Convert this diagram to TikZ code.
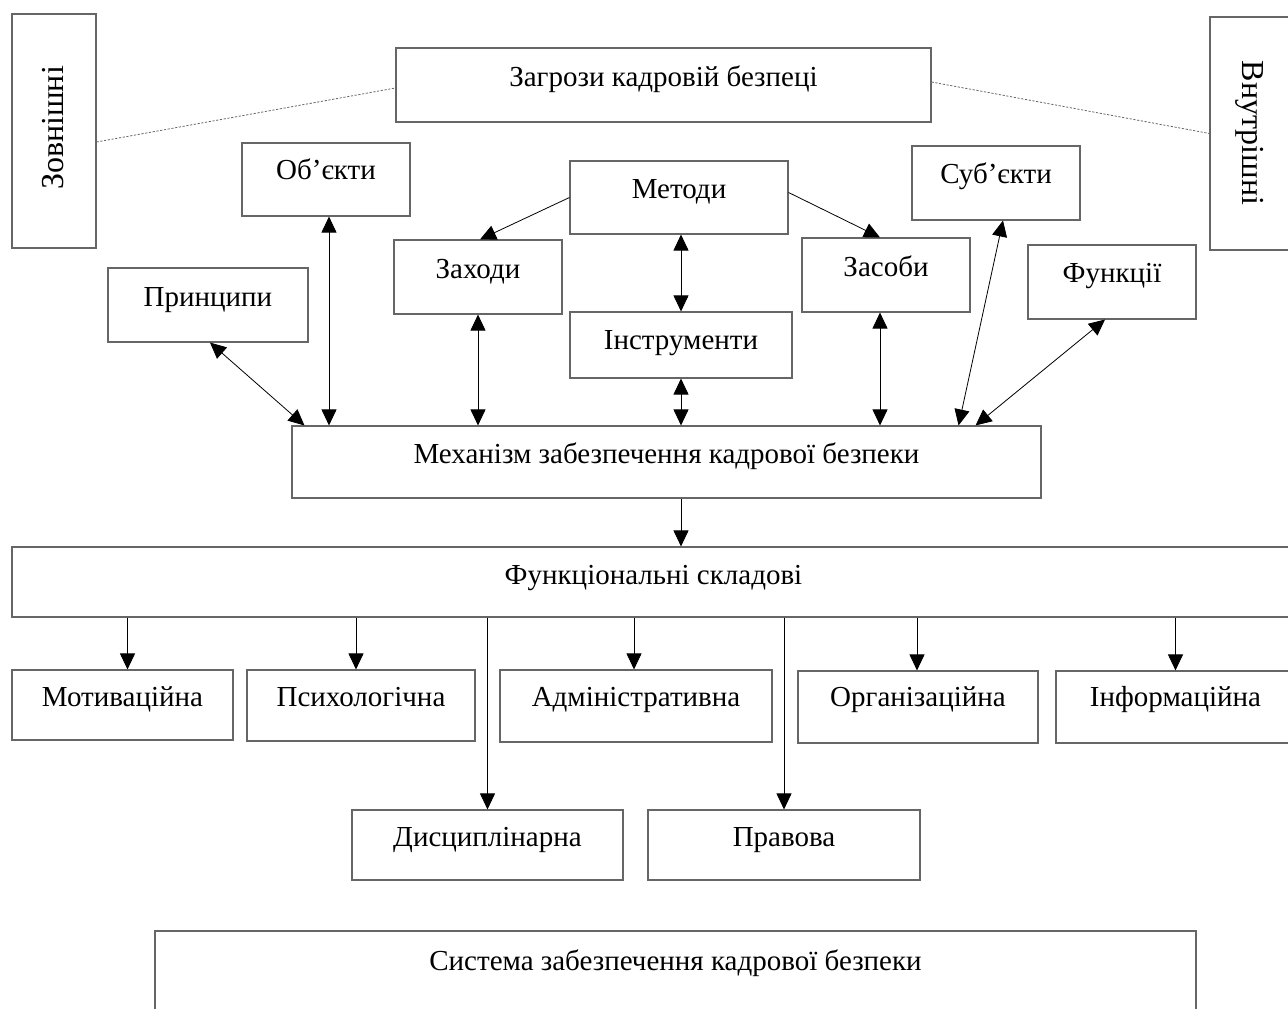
\documentclass[tikz,border=0pt]{standalone}
\usepackage{fontspec}
\setmainfont{Liberation Serif}
\usetikzlibrary{arrows.meta,fit}

\tikzset{
  box/.style={draw=black!60, line width=1.1pt, inner sep=0pt, fill=none},
  lbl/.style={inner sep=0pt, text height=0.7em, text depth=0.22em,
              font=\fontsize{29}{34}\selectfont},
  conn/.style={draw=black, line width=0.8pt},
  tip/.style={-{Triangle[length=16pt,width=15pt]}},
  both/.style={{Triangle[length=16pt,width=15pt]}-{Triangle[length=16pt,width=15pt]}},
  dots/.style={draw=black!60, line width=0.8pt, dash pattern=on 2.2pt off 1.6pt},
}

% framed box from corner (l,t) to (r,b), caption centred near height ty
\newcommand\framedbox[7]{%
  \node[box, fit={(#2,#3)(#4,#5)}] (#1) {};
  \node[lbl] (#1-t) at ({(#2+#4)/2},{#6+5}) {#7};}

\begin{document}
\begin{tikzpicture}[x=1pt,y=-1pt]
\useasboundingbox (0,0) rectangle (1288,1009);

% threats and their two kinds
\node[box, fit={(12,14)(96,248)}] (zovn) {};
\node[inner sep=0pt, rotate=90, font=\fontsize{32}{36}\selectfont] (zovn-t) at (53,128) {Зовнішні};
\node[box, fit={(1210,17)(1295,250)}] (vnutr) {};
\node[inner sep=0pt, rotate=-90, font=\fontsize{32}{36}\selectfont] (vnutr-t) at (1250,133) {Внутрішні};
\framedbox{zagr}{396}{48}{931}{122}{79}{Загрози кадровій безпеці}

% elements of the mechanism
\framedbox{obj}{242}{143}{410}{216}{172}{Об’єкти}
\framedbox{metody}{570}{161}{788}{234}{191}{Методи}
\framedbox{sub}{912}{146}{1080}{220}{176}{Суб’єкти}
\framedbox{zaxody}{394}{240}{562}{314}{271}{Заходи}
\framedbox{zasoby}{802}{238}{970}{312}{269}{Засоби}
\framedbox{pryn}{108}{268}{308}{342}{299}{Принципи}
\framedbox{funk}{1028}{245}{1196}{319}{275}{Функції}
\framedbox{instr}{570}{312}{792}{378}{342}{Інструменти}

\framedbox{mech}{292}{426}{1041}{498}{456}{Механізм забезпечення кадрової безпеки}

% functional components
\framedbox{func}{12}{547}{1295}{617}{577}{Функціональні складові}
\framedbox{motiv}{12}{670}{233}{740}{699}{Мотиваційна}
\framedbox{psyx}{247}{670}{475}{741}{699}{Психологічна}
\framedbox{adm}{500}{670}{772}{742}{699}{Адміністративна}
\framedbox{org}{798}{671}{1038}{743}{699}{Організаційна}
\framedbox{inf}{1056}{671}{1295}{743}{699}{Інформаційна}
\framedbox{dysc}{352}{810}{623}{880}{839}{Дисциплінарна}
\framedbox{prav}{648}{810}{920}{880}{839}{Правова}

\framedbox{syst}{155}{931}{1196}{1015}{963}{Система забезпечення кадрової безпеки}

% dotted links of the threats
\draw[dots] ([yshift=-11pt]zovn.east) -- ([yshift=-3pt]zagr.west);
\draw[dots] ([yshift=3pt]zagr.east) -- (vnutr.west);

% links around the methods
\draw[conn, tip] (metody.west) -- ([xshift=2pt]zaxody.north);
\draw[conn, tip] ([yshift=5pt]metody.east) -- ([xshift=-6pt]zasoby.north);
\draw[conn, both] (metody.south -| instr.south) -- (instr.north);

% links into the mechanism
\draw[conn, both] ([xshift=3pt]obj.south) -- ([xshift=3pt]obj.south |- mech.north);
\draw[conn, both] ([xshift=2pt]pryn.south) -- ([xshift=13pt]mech.north west);
\draw[conn, both] (zaxody.south) -- (zaxody.south |- mech.north);
\draw[conn, both] ([xshift=-6pt]zasoby.south) -- ([xshift=-6pt]zasoby.south |- mech.north);
\draw[conn, both] (instr.south) -- (instr.south |- mech.north);
\draw[conn, both] ([xshift=7pt]sub.south) -- ([xshift=-83pt]mech.north east);
\draw[conn, both] ([xshift=-7pt]funk.south) -- ([xshift=-66pt]mech.north east);

% mechanism to the functional components
\draw[conn, tip] (instr.south |- mech.south) -- (instr.south |- func.north);
\draw[conn, tip] ([xshift=5pt]motiv.north |- func.south) -- ([xshift=5pt]motiv.north);
\draw[conn, tip] ([xshift=-5pt]psyx.north |- func.south) -- ([xshift=-5pt]psyx.north);
\draw[conn, tip] ([xshift=-2pt]adm.north |- func.south) -- ([xshift=-2pt]adm.north);
\draw[conn, tip] ([xshift=-1pt]org.north |- func.south) -- ([xshift=-1pt]org.north);
\draw[conn, tip] (inf.north |- func.south) -- (inf.north);
\draw[conn, tip] (dysc.north |- func.south) -- (dysc.north);
\draw[conn, tip] (prav.north |- func.south) -- (prav.north);
\end{tikzpicture}
\end{document}
